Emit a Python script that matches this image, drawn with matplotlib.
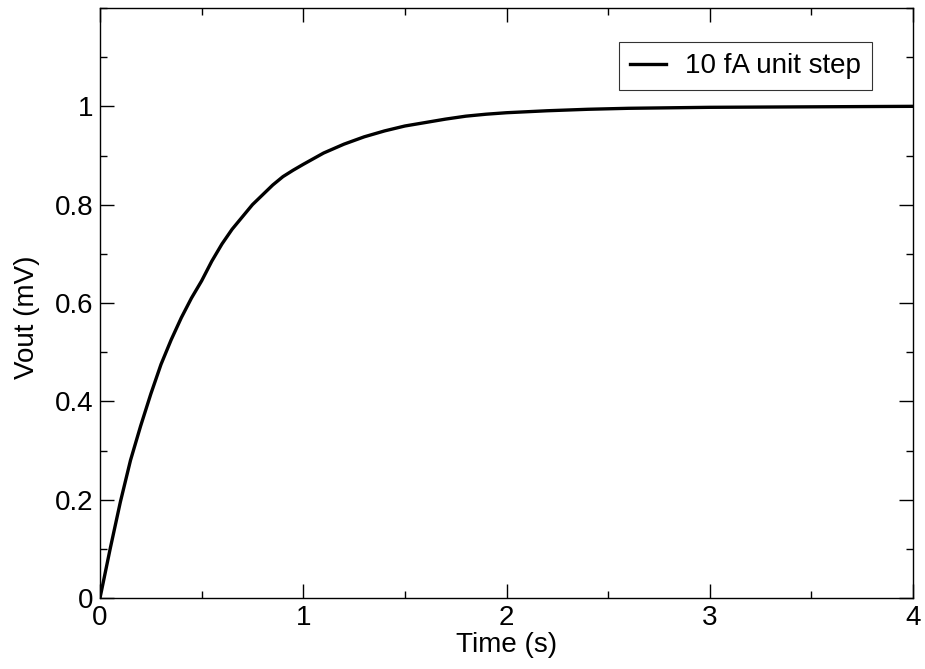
import matplotlib
matplotlib.use('Agg')
import matplotlib.pyplot as plt
from matplotlib.ticker import MultipleLocator

plt.rcParams['font.family'] = ['Liberation Sans', 'DejaVu Sans']

# values
time_s = [0, 0.05, 0.1, 0.15, 0.2, 0.25, 0.3, 0.35, 0.4, 0.45, 0.5, 0.55, 0.6,
          0.65, 0.7, 0.75, 0.8, 0.85, 0.9, 0.95, 1.0, 1.1, 1.2, 1.3, 1.4, 1.5,
          1.6, 1.7, 1.8, 1.9, 2.0, 2.2, 2.4, 2.6, 2.8, 3.0, 3.5, 4.0]
vout_mv = [0, 0.10, 0.195, 0.28, 0.35, 0.415, 0.475, 0.525, 0.57, 0.61, 0.645,
           0.685, 0.72, 0.75, 0.775, 0.80, 0.82, 0.84, 0.857, 0.87, 0.882, 0.905,
           0.923, 0.938, 0.95, 0.96, 0.967, 0.974, 0.98, 0.984, 0.987, 0.991,
           0.994, 0.996, 0.997, 0.998, 0.999, 1.0]
series_label = '10 fA unit step'

fig = plt.figure(figsize=(9.25, 6.69), dpi=100)
ax = fig.add_axes([100 / 925, 1 - 598 / 669, 813 / 925, 590 / 669])

ax.plot(time_s, vout_mv, color='black', linewidth=2.4, label=series_label)

ax.set_xlim(0, 4)
ax.set_ylim(0, 1.2)
ax.set_xticks([0, 1, 2, 3, 4])
ax.set_xticklabels(['0', '1', '2', '3', '4'])
ax.set_yticks([0, 0.2, 0.4, 0.6, 0.8, 1.0])
ax.set_yticklabels(['0', '0.2', '0.4', '0.6', '0.8', '1'])
ax.xaxis.set_minor_locator(MultipleLocator(0.5))
ax.yaxis.set_minor_locator(MultipleLocator(0.1))

ax.tick_params(which='both', direction='in', top=True, right=True, labelsize=20, width=1)
ax.tick_params(which='major', length=10)
ax.tick_params(axis='x', which='major', pad=5)
ax.tick_params(axis='y', which='major', pad=5)
ax.tick_params(which='minor', length=5)
for sp in ax.spines.values():
    sp.set_linewidth(1)

ax.set_xlabel('Time (s)', fontsize=20)
ax.set_ylabel('Vout (mV)', fontsize=20)
ax.xaxis.set_label_coords(0.5, -0.058)
ax.yaxis.set_label_coords(-0.074, 0.476)

leg = ax.legend(loc='upper right', bbox_to_anchor=(0.95, 0.942), fontsize=20,
                frameon=True, fancybox=False, handlelength=1.3, borderpad=0.4,
                handletextpad=0.7, borderaxespad=0)
leg.get_frame().set_edgecolor('black')
leg.get_frame().set_linewidth(0.8)

fig.savefig('out.png', dpi=100)
